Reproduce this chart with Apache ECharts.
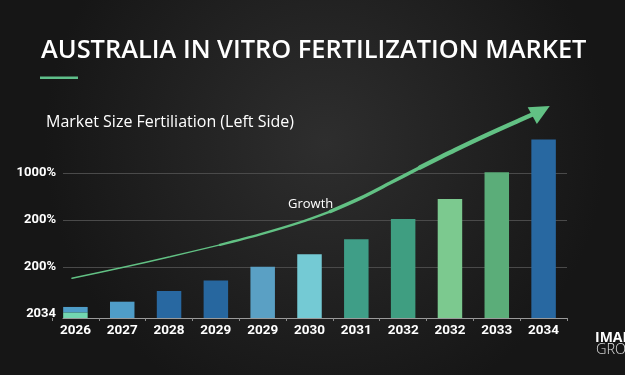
<!DOCTYPE html>
<html>
<head>
<meta charset="utf-8">
<script src="https://cdn.jsdelivr.net/npm/echarts@6/dist/echarts.min.js"></script>
<style>html,body{margin:0;padding:0;background:#1e1e1e;}#c{width:625px;height:375px;}</style>
</head>
<body>
<div id="c"></div>
<script>
// ---- data ----
const categories = ['2026','2027','2028','2029','2029','2030','2031','2032','2032','2033','2034'];
const lowerSegment = [0.12, 0, 0, 0, 0, 0, 0, 0, 0, 0, 0];
const upperSegment = [0.115, 0.347, 0.574, 0.80, 1.09, 1.355, 1.674, 2.106, 2.532, 3.10, 3.80];
const yTickLabels = ['2034', '200%', '200%', '1000%'];
const growthX = [-0.073, 0.952, 2.020, 3.088, 3.943, 4.797, 5.438, 6.079, 6.719, 7.360, 8.108, 8.855, 9.496, 9.774];
const growthY = [0.845, 1.064, 1.302, 1.557, 1.779, 2.034, 2.264, 2.545, 2.870, 3.202, 3.574, 3.926, 4.213, 4.336];
const growthArrow = [9.945, 4.409];

// ---- styles ----
const barColors = ['#4f9dc8','#4f9dc8','#2868a1','#27679f','#5aa0c4','#74cad4','#3f9e87','#3f9e81','#7cc98f','#5bad79','#2868a1'];
const lowerColor = '#72d6b0';
const green = '#62c184';

const pts = growthX.map((x, i) => [x, growthY[i]]);
function seg(a, b, w) {
  return {
    type: 'line', xAxisIndex: 2, yAxisIndex: 1, smooth: 0.3, symbol: 'none',
    lineStyle: { color: green, width: w, cap: 'round' },
    data: pts.slice(a, b + 1), z: 5, silent: true, clip: false
  };
}

const chart = echarts.init(document.getElementById('c'), null, { renderer: 'canvas' });
chart.setOption({
  animation: false,
  backgroundColor: {
    type: 'radial', x: 0.52, y: 0.38, r: 0.75,
    colorStops: [{ offset: 0, color: '#2e2e2e' }, { offset: 1, color: '#161616' }]
  },
  grid: [
    { left: 63, right: 58, top: 173, bottom: 61 },   // y labels + gridlines
    { left: 52, right: 58, top: 83, bottom: 57 },    // bars + growth
    { left: 63, right: 58, top: 200, bottom: 57 }    // baseline axis line
  ],
  xAxis: [
    { gridIndex: 0, type: 'value', show: false, min: 0, max: 1 },
    { gridIndex: 1, type: 'category', data: categories,
      axisLine: { show: false },
      axisTick: { show: true, length: 3, lineStyle: { color: '#8c8c8c' } },
      axisLabel: { color: '#ffffff', fontFamily: 'Roboto', fontWeight: 'bold', fontSize: 13.5, margin: 6 } },
    { gridIndex: 1, type: 'value', show: false, min: -0.5, max: 10.5 },
    { gridIndex: 2, type: 'value', min: 0, max: 1,
      axisLine: { show: true, lineStyle: { color: '#9a9a9a', width: 1 } },
      axisTick: { show: false }, axisLabel: { show: false }, splitLine: { show: false } }
  ],
  yAxis: [
    { gridIndex: 0, type: 'value', min: 0, max: 3, interval: 1,
      axisLine: { show: false }, axisTick: { show: false },
      axisLabel: { color: '#ffffff', fontFamily: 'Roboto', fontWeight: 'bold', fontSize: 13, margin: 7,
        formatter: v => yTickLabels[Math.round(v)] },
      splitLine: { show: true, lineStyle: { color: ['transparent', '#4a4a4a', '#4a4a4a', '#4a4a4a'], width: 1 } } },
    { gridIndex: 1, type: 'value', min: 0, max: 5, show: false },
    { gridIndex: 2, type: 'value', show: false, min: 0, max: 1 }
  ],
  series: [
    { type: 'bar', xAxisIndex: 1, yAxisIndex: 1, stack: 's', barWidth: 24.5,
      data: lowerSegment, itemStyle: { color: lowerColor }, silent: true },
    { type: 'bar', xAxisIndex: 1, yAxisIndex: 1, stack: 's', barWidth: 24.5,
      data: upperSegment.map((v, i) => ({ value: v, itemStyle: { color: barColors[i] } })), silent: true },
    seg(0, 3, 1.4),
    seg(3, 6, 2.4),
    seg(6, 9, 3.4),
    seg(9, 13, 4.4),
    { type: 'line', xAxisIndex: 2, yAxisIndex: 1, symbol: 'triangle', symbolSize: [19, 20],
      symbolRotate: -61, itemStyle: { color: green }, lineStyle: { width: 0 },
      data: [growthArrow], z: 6, silent: true, clip: false }
  ],
  graphic: [
    { type: 'text', x: 41, y: 51, style: { text: 'AUSTRALIA IN VITRO FERTILIZATION MARKET', fill: '#ffffff',
      font: '600 25.4px "Open Sans"', textVerticalAlign: 'middle' } },
    { type: 'rect', shape: { x: 40, y: 76.5, width: 38, height: 2.5 }, style: { fill: '#5fbf8a' } },
    { type: 'text', x: 46, y: 122, style: { text: 'Market Size Fertiliation (Left Side)', fill: '#ffffff',
      font: '500 16px "Open Sans"', textVerticalAlign: 'middle' } },
    { type: 'text', x: 288, y: 204, style: { text: 'Growth', fill: '#ffffff',
      font: '500 13px "Open Sans"', textVerticalAlign: 'middle' } },
    { type: 'text', x: 595, y: 338, style: { text: 'IMARC', fill: '#ffffff',
      font: 'bold 14px "Open Sans"', textVerticalAlign: 'middle' } },
    { type: 'text', x: 596, y: 350, style: { text: 'GROUP', fill: '#e0e0e0',
      font: '300 14.5px "Open Sans"', textVerticalAlign: 'middle' } }
  ]
});
</script>
</body>
</html>
